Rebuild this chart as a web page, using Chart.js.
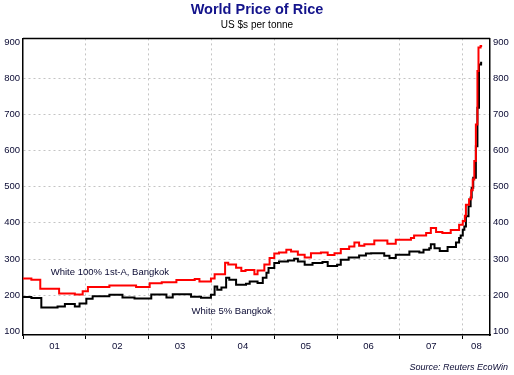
<!DOCTYPE html>
<html><head><meta charset="utf-8">
<script src="https://cdn.jsdelivr.net/npm/chart.js@4"></script>
<style>html,body{margin:0;padding:0;background:#fff}</style>
</head><body>
<canvas id="c" width="514" height="375"></canvas>
<script>
// Months since Jan 2001 and prices (US$ per tonne)
const redMonths = [0,1.6,3.3,6.9,9.9,11.4,12.4,16.5,21.6,24.2,26.5,29.3,32.8,33.7,35.9,36.6,38.6,39.2,40.7,41.7,42.5,44.2,44.8,46.1,47.1,48.0,48.9,50.3,51.2,52.5,53.8,55.0,56.9,58.2,59.5,60.7,62.3,63.3,64.2,65.2,67.1,69.6,71.2,74.1,74.7,77.0,77.9,78.9,80.1,81.7,83.3,84.0,84.4,84.6,85.2,85.6,85.9,86.2,86.5,86.8,87.0,87.4,87.7];
const white100 = [246,243,218,205,202,211,223,227,223,233,236,242,245,238,246,258,290,285,276,267,270,258,268,285,303,315,318,326,321,312,304,316,318,311,316,328,335,346,337,341,351,342,353,358,365,372,386,375,372,380,395,405,420,450,465,490,520,571,672,820,885,889,889];
const blackMonths = [0,1.6,3.5,6.6,8.0,9.9,10.8,12.1,13.3,16.5,19.0,21.3,24.5,27.4,28.6,32.1,34.0,35.9,36.6,37.1,37.9,38.8,39.4,40.7,42.6,43.3,44.8,45.8,46.5,46.9,48.0,48.9,50.6,51.8,52.5,53.8,55.3,57.2,58.2,60.0,60.7,62.2,64.2,65.5,66.5,69.0,70.0,71.2,73.8,75.7,76.5,77.6,77.9,78.6,79.6,81.1,82.7,83.3,83.6,84.0,84.3,84.6,85.1,85.5,85.7,86.0,86.5,86.8,87.1,87.5,87.7];
const white5 = [195,192,166,169,176,169,177,190,197,201,194,191,202,194,203,196,193,201,224,215,221,248,243,229,232,238,234,248,262,275,289,293,296,301,293,284,289,292,281,284,298,304,310,315,316,309,303,312,321,318,326,330,341,330,322,333,346,358,365,381,390,418,446,470,497,525,612,718,838,843,843];
const yearLabels = ['01','02','03','04','05','06','07','08'];
const yearStarts = [0,12,24,36,48,60,72,84];
const yearMids = [6,18,30,42,54,66,78,86.6];
const yTicks = [100,200,300,400,500,600,700,800,900];
const seriesNames = ['White 100% 1st-A, Bangkok','White 5% Bangkok'];
const nameMonths = [5.3,32.2];
const nameValues = [263,155];

const FONT = "'Liberation Sans', Arial, sans-serif";
const TXT = '#0a0a33';
const GRID = '#c4c4c4';

const xTickValues = [...yearStarts, ...yearMids].sort((a,b)=>a-b);
const isStart = v => yearStarts.includes(v);

const extras = {
  id: 'extras',
  afterDatasetsDraw(chart) {
    const {ctx, chartArea: a, scales} = chart;
    ctx.save();
    ctx.strokeStyle = '#000';
    ctx.lineWidth = 1.5;
    const ty = Math.round(a.top) + 0.5;
    ctx.beginPath(); ctx.moveTo(a.left, ty); ctx.lineTo(a.right, ty); ctx.stroke();
    ctx.fillStyle = TXT;
    ctx.font = "9.5px " + FONT;
    ctx.textAlign = 'left'; ctx.textBaseline = 'middle';
    seriesNames.forEach((t,i) => {
      ctx.fillText(t, scales.x.getPixelForValue(nameMonths[i]), scales.y.getPixelForValue(nameValues[i]));
    });
    ctx.font = "italic 9px " + FONT;
    ctx.textAlign = 'right';
    ctx.fillText('Source: Reuters EcoWin', 508, 367);
    ctx.restore();
  }
};

const yAxis = (pos, w, showGrid) => ({
  type: 'linear', position: pos, min: 90, max: 910,
  afterBuildTicks: s => { s.ticks = yTicks.map(v => ({value: v})); },
  afterFit: s => { s.width = w; },
  ticks: {padding: 3, color: TXT, font: {family: FONT, size: 9.5}},
  grid: {display: showGrid, drawTicks: false, lineWidth: 1,
    color: c => (c.tick && (c.tick.value === 100 || c.tick.value === 900)) ? 'rgba(0,0,0,0)' : GRID},
  border: {display: true, color: '#000', width: 1.5, dash: [2,3]}
});

new Chart(document.getElementById('c'), {
  type: 'line',
  data: {datasets: [
    {label: seriesNames[0], data: redMonths.map((m,i) => ({x: m, y: white100[i]})),
     borderColor: '#ff0000', borderWidth: 2, pointRadius: 0, stepped: true, fill: false},
    {label: seriesNames[1], data: blackMonths.map((m,i) => ({x: m, y: white5[i]})),
     borderColor: '#000000', borderWidth: 2, pointRadius: 0, stepped: true, fill: false}
  ]},
  options: {
    responsive: false, animation: false, layout: {padding: 0},
    plugins: {
      legend: {display: false}, tooltip: {enabled: false},
      title: {display: true, text: 'World Price of Rice', color: '#14148c',
        font: {family: FONT, size: 14.5, weight: 'bold'}, padding: {top: 1, bottom: 0}},
      subtitle: {display: true, text: 'US $s per tonne', color: '#000',
        font: {family: FONT, size: 10}, padding: {top: 1, bottom: 7}}
    },
    scales: {
      x: {type: 'linear', position: 'bottom', min: 0, max: 89.2,
        afterBuildTicks: s => { s.ticks = xTickValues.map(v => ({value: v})); },
        afterFit: s => { s.height = 40; },
        ticks: {autoSkip: false, maxRotation: 0, padding: 2, color: TXT, font: {family: FONT, size: 9.5},
          callback: v => isStart(v) ? '' : yearLabels[yearMids.indexOf(v)]},
        grid: {tickLength: 4, lineWidth: 1,
          color: c => (c.tick && isStart(c.tick.value) && c.tick.value !== 0) ? GRID : 'rgba(0,0,0,0)',
          tickColor: c => (c.tick && isStart(c.tick.value)) ? '#000' : 'rgba(0,0,0,0)'},
        border: {display: true, color: '#000', width: 1.5, dash: [2,3]}
      },
      y: yAxis('left', 23, true),
      y2: yAxis('right', 24, false)
    }
  },
  plugins: [extras]
});
</script>
</body></html>
